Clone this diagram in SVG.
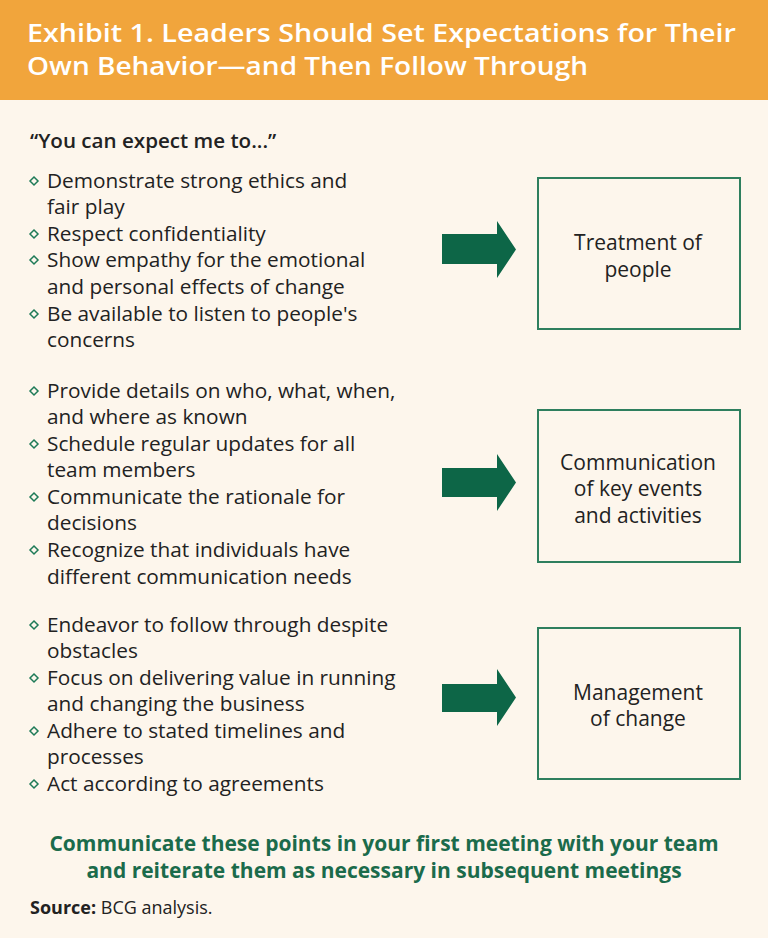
<svg xmlns="http://www.w3.org/2000/svg" width="768" height="938" viewBox="0 0 768 938">
<style>
.t{font-family:"Open Sans","Noto Sans",sans-serif;fill:#222;}
.b{font-size:20.8px;}
.bx{font-size:21px;text-anchor:middle;}
.box{fill:none;stroke:#2E7F5E;stroke-width:2;}
.arr{fill:#0D6647;}
.dia{fill:none;stroke:#1E7A57;stroke-width:1.5;}
</style>
<defs>
<path id="d" d="M0,-4 L4,0 L0,4 L-4,0 Z"/>
</defs>
<rect x="0" y="0" width="768" height="938" fill="#FDF6EC"/>
<rect x="0" y="0" width="768" height="100" fill="#F1A53C"/>
<g id="title" class="t" style="fill:#fff;font-size:26px;font-weight:600;">
<text x="27" y="41.5" textLength="709" lengthAdjust="spacingAndGlyphs">Exhibit 1. Leaders Should Set Expectations for Their</text>
<text x="27" y="75" textLength="561" lengthAdjust="spacingAndGlyphs">Own Behavior—and Then Follow Through</text>
</g>
<text class="t" x="30" y="148" style="font-size:20.6px;font-weight:600;">“You can expect me to...”</text>
<g id="list1" class="t b">
<use href="#d" x="34" y="181" class="dia"/>
<text x="47" y="188">Demonstrate strong ethics and</text>
<text x="47" y="214">fair play</text>
<use href="#d" x="34" y="234" class="dia"/>
<text x="47" y="241">Respect confidentiality</text>
<use href="#d" x="34" y="260" class="dia"/>
<text x="47" y="267">Show empathy for the emotional</text>
<text x="47" y="294">and personal effects of change</text>
<use href="#d" x="34" y="314" class="dia"/>
<text x="47" y="321">Be available to listen to people's</text>
<text x="47" y="347">concerns</text>
</g>
<g id="list2" class="t b">
<use href="#d" x="34" y="391" class="dia"/>
<text x="47" y="398">Provide details on who, what, when,</text>
<text x="47" y="424">and where as known</text>
<use href="#d" x="34" y="444" class="dia"/>
<text x="47" y="451">Schedule regular updates for all</text>
<text x="47" y="477">team members</text>
<use href="#d" x="34" y="497" class="dia"/>
<text x="47" y="504">Communicate the rationale for</text>
<text x="47" y="530">decisions</text>
<use href="#d" x="34" y="550" class="dia"/>
<text x="47" y="557">Recognize that individuals have</text>
<text x="47" y="584">different communication needs</text>
</g>
<g id="list3" class="t b">
<use href="#d" x="34" y="625" class="dia"/>
<text x="47" y="632">Endeavor to follow through despite</text>
<text x="47" y="658">obstacles</text>
<use href="#d" x="34" y="678" class="dia"/>
<text x="47" y="685">Focus on delivering value in running</text>
<text x="47" y="711">and changing the business</text>
<use href="#d" x="34" y="731" class="dia"/>
<text x="47" y="738">Adhere to stated timelines and</text>
<text x="47" y="764">processes</text>
<use href="#d" x="34" y="784" class="dia"/>
<text x="47" y="791">Act according to agreements</text>
</g>
<g id="connectors">
<path class="arr" d="M442,234 H497 V221 L516,249.5 L497,278 V264 H442 Z"/>
<path class="arr" d="M442,468 H497 V454 L516,482.5 L497,511 V497 H442 Z"/>
<path class="arr" d="M442,684 H497 V669 L516,697.5 L497,726 V712 H442 Z"/>
</g>
<g id="node-treatment">
<rect class="box" x="538" y="178" width="202" height="151"/>
<text class="t bx" x="638" y="250">Treatment of</text>
<text class="t bx" x="638" y="277">people</text>
</g>
<g id="node-communication">
<rect class="box" x="538" y="410" width="202" height="152"/>
<text class="t bx" x="638" y="470">Communication</text>
<text class="t bx" x="638" y="496">of key events</text>
<text class="t bx" x="638" y="523">and activities</text>
</g>
<g id="node-management">
<rect class="box" x="538" y="628" width="202" height="151"/>
<text class="t bx" x="638" y="700">Management</text>
<text class="t bx" x="638" y="726">of change</text>
</g>
<g id="footer" class="t" style="fill:#1B6B4B;font-size:21px;font-weight:700;text-anchor:middle;">
<text x="384" y="851">Communicate these points in your first meeting with your team</text>
<text x="384" y="878">and reiterate them as necessary in subsequent meetings</text>
</g>
<text class="t" x="30" y="914" style="font-size:18px;"><tspan font-weight="700">Source:</tspan> BCG analysis.</text>
</svg>
